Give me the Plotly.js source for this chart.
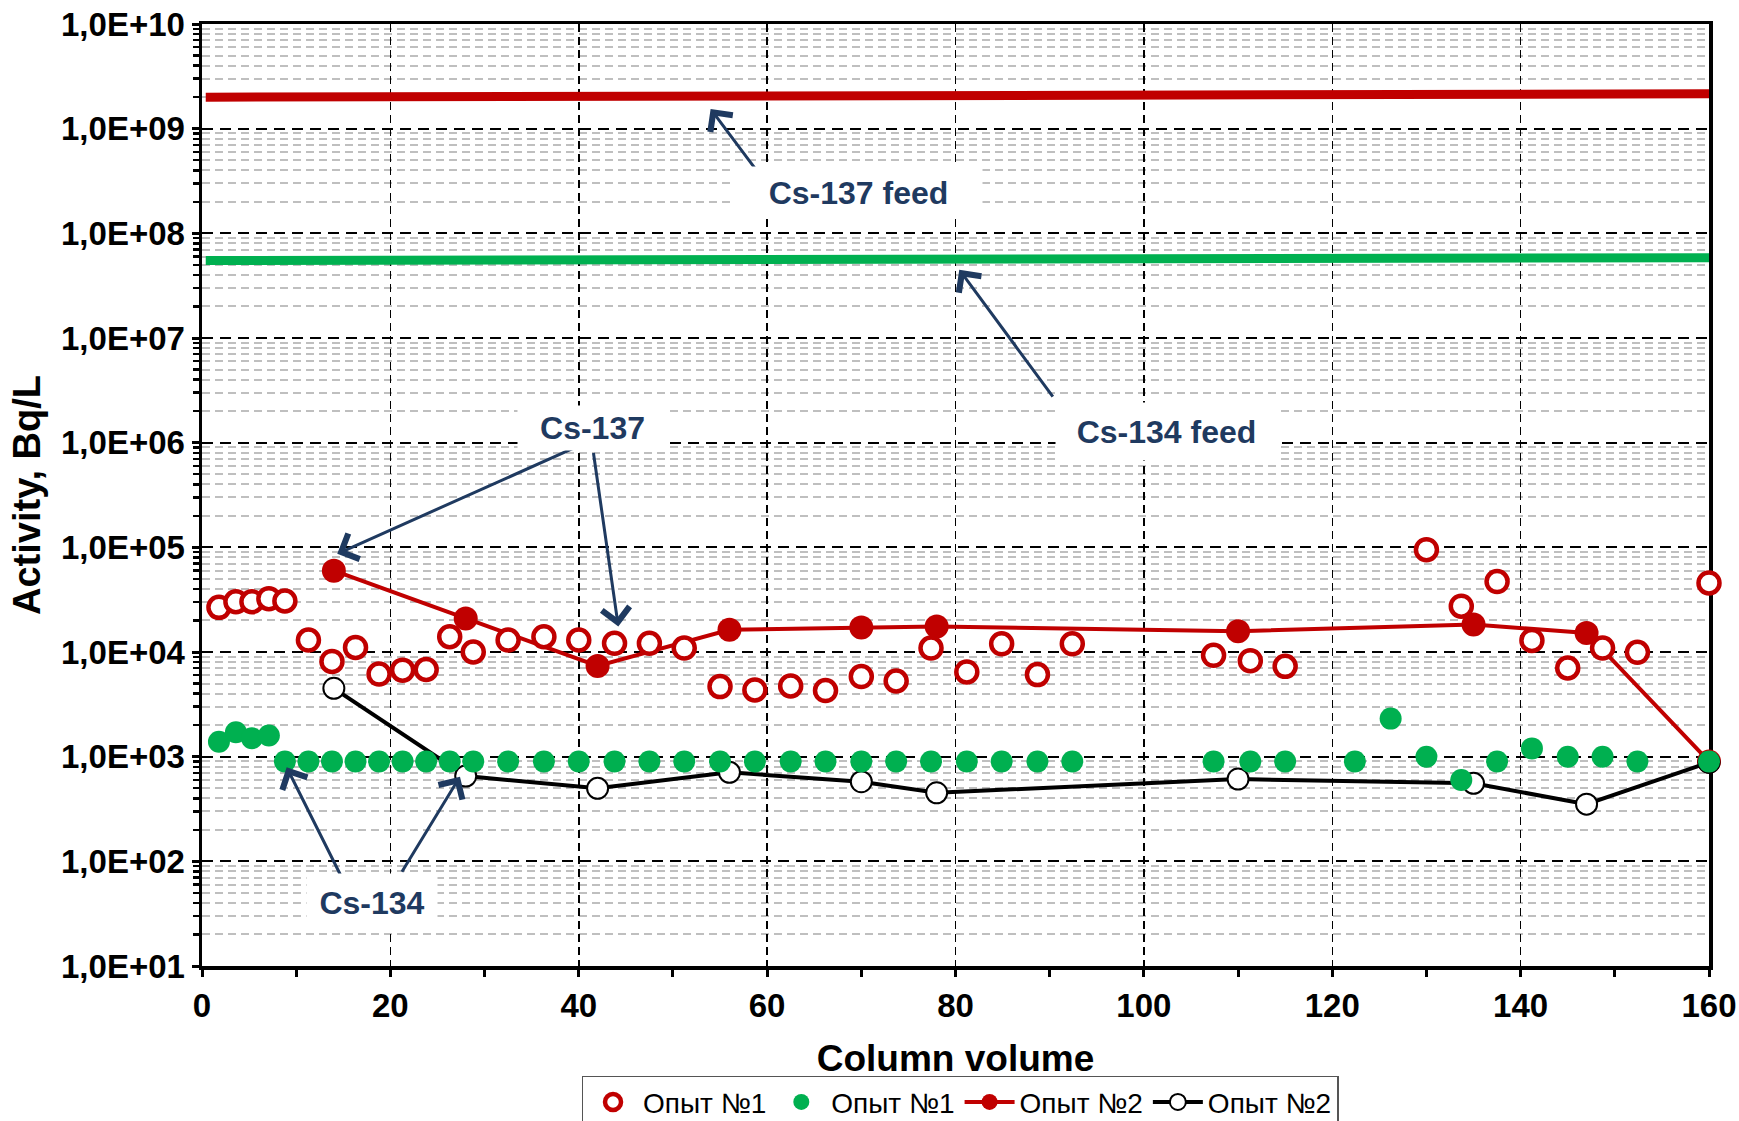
<!DOCTYPE html>
<html><head><meta charset="utf-8">
<script src="https://cdn.plot.ly/plotly-3.0.1.min.js"></script>
<style>html,body{margin:0;padding:0;background:#fff}</style>
</head><body>
<div id="chart" style="width:1739px;height:1121px"></div>
<script>
// ---- data ----
const run1X137 = [1.8,3.6,5.3,7.1,8.8,11.3,13.8,16.3,18.8,21.3,23.8,26.3,28.8,32.5,36.3,40,43.8,47.5,51.2,55,58.7,62.5,66.2,70,73.7,77.4,81.2,84.9,88.7,92.4,107.4,111.3,115,130,133.7,137.5,141.2,145,148.7,152.4,160];
const run1Cs137 = [26700,30200,30200,32300,30700,13000,8130,11060,6150,6710,6810,14000,10000,13000,14000,13000,12100,12100,10900,4670,4340,4730,4280,5820,5280,10900,6450,11970,6080,11970,9290,8260,7290,95000,27400,47100,12900,7030,10900,9930,45700];
const run1X134 = [1.8,3.6,5.3,7.1,8.8,11.3,13.8,16.3,18.8,21.3,23.8,26.3,28.8,32.5,36.3,40,43.8,47.5,51.2,55,58.7,62.5,66.2,70,73.7,77.4,81.2,84.9,88.7,92.4,107.4,111.3,115,122.4,126.2,130,133.7,137.5,141.2,145,148.7,152.4,160];
const run1Cs134 = [1390,1710,1500,1590,900,900,900,900,900,900,900,900,900,900,900,900,900,900,900,900,900,900,900,900,900,900,900,900,900,900,900,900,900,900,2310,1000,598,900,1200,1000,1000,900,900];
const run2X = [14,28,42,56,70,78,110,135,147,160];
const run2Cs137 = [59800,20900,7360,16300,17100,17500,15800,18300,15200,900];
const run2Cs134 = [4500,653,498,708,576,452,611,556,352,880];
const feedX = [0.4,160];
const feedCs137 = [2.0e9,2.15e9];
const feedCs134 = [5.5e7,5.85e7];
const legendNames = ['Опыт №1','Опыт №1','Опыт №2','Опыт №2'];
const yTickVals = [1e1,1e2,1e3,1e4,1e5,1e6,1e7,1e8,1e9,1e10];
const yTickText = ['1,0E+01','1,0E+02','1,0E+03','1,0E+04','1,0E+05','1,0E+06','1,0E+07','1,0E+08','1,0E+09','1,0E+10'];
const xTickVals = [0,20,40,60,80,100,120,140,160];
const xTickText = ['0','20','40','60','80','100','120','140','160'];
const annTexts = ['Cs-137 feed','Cs-134 feed','Cs-137','Cs-134'];

// minor log tick positions
const yMinor = [];
for (let k = 1; k < 10; k++) for (let d = 2; d < 10; d++) yMinor.push(d * Math.pow(10, k));

const RED = '#C00000', GREEN = '#00B050', NAVY = '#1F3A60';
const FONT = 'Liberation Sans, Arial, sans-serif';

const traces = [
  {x: feedX, y: feedCs137, mode: 'lines', line: {color: RED, width: 9}, showlegend: false, cliponaxis: false},
  {x: feedX, y: feedCs134, mode: 'lines', line: {color: GREEN, width: 9}, showlegend: false, cliponaxis: false},
  {x: run2X, y: run2Cs137, name: legendNames[2], legendrank: 3, mode: 'lines+markers',
   line: {color: RED, width: 4}, marker: {color: RED, size: 24, line: {width: 0}}, cliponaxis: false},
  {x: run2X, y: run2Cs134, name: legendNames[3], legendrank: 4, mode: 'lines+markers',
   line: {color: '#000', width: 4}, marker: {color: '#fff', size: 21, line: {color: '#000', width: 2}}, cliponaxis: false},
  {x: run1X137, y: run1Cs137, name: legendNames[0], legendrank: 1, mode: 'markers',
   marker: {color: '#fff', size: 21, line: {color: RED, width: 4.5}}, cliponaxis: false},
  {x: run1X134, y: run1Cs134, name: legendNames[1], legendrank: 2, mode: 'markers',
   marker: {color: GREEN, size: 22, line: {width: 0}}, cliponaxis: false}
];

function textAnn(t, x, ylog, w, h) {
  return {text: t, x: x, y: ylog, xref: 'x', yref: 'y', showarrow: false, width: w, height: h,
    xanchor: 'center', yanchor: 'middle', bgcolor: '#fff', borderpad: 0,
    font: {family: FONT, size: 32, color: NAVY, weight: 700}};
}
function arrowAnn(hx, hy, tx, ty) {
  return {text: '', x: hx, y: hy, ax: tx, ay: ty, xref: 'x', yref: 'y', axref: 'x', ayref: 'y',
    showarrow: true, arrowhead: 4, arrowsize: 1.8, arrowwidth: 3, arrowcolor: NAVY, standoff: 0, startstandoff: 0};
}

const annotations = [
  arrowAnn(54.0, 9.1885, 59.35, 8.544),
  arrowAnn(80.4, 7.6525, 90.45, 6.4255),
  arrowAnn(14.36, 4.938, 39.85, 5.9635),
  arrowAnn(44.2, 4.243, 41.54, 5.916),
  arrowAnn(8.99, 2.899, 14.76, 1.86),
  arrowAnn(27.39, 2.809, 21.13, 1.886),
  textAnn(annTexts[0], 69.7, 8.393, 247, 51),
  textAnn(annTexts[1], 102.45, 6.109, 221, 57),
  textAnn(annTexts[2], 41.46, 6.142, 149, 44),
  textAnn(annTexts[3], 18.0, 1.602, 130, 57)
];

const layout = {
  width: 1739, height: 1121,
  margin: {l: 202, r: 30, t: 24, b: 155, pad: 0, autoexpand: false},
  paper_bgcolor: '#fff', plot_bgcolor: '#fff',
  showlegend: true,
  hovermode: false,
  xaxis: {
    range: [0, 160], tickmode: 'array', tickvals: xTickVals, ticktext: xTickText,
    showline: true, linecolor: '#000', linewidth: 3.5, mirror: true, layer: 'below traces',
    ticks: 'outside', ticklen: 7, tickwidth: 3, tickcolor: '#000', ticklabelstandoff: 1,
    showgrid: true, gridcolor: '#000', gridwidth: 1.5, griddash: '8px,5px', zeroline: false,
    minor: {tickmode: 'array', tickvals: [10,30,50,70,90,110,130,150], ticks: 'outside', ticklen: 7, tickwidth: 3, tickcolor: '#000', showgrid: false},
    tickfont: {family: FONT, size: 33, color: '#000', weight: 700},
    title: {text: 'Column volume', standoff: 23, font: {family: FONT, size: 37, color: '#000', weight: 700}}
  },
  yaxis: {
    type: 'log', range: [1, 10], tickmode: 'array', tickvals: yTickVals, ticktext: yTickText,
    showline: true, linecolor: '#000', linewidth: 3.5, mirror: true, layer: 'below traces',
    ticks: 'outside', ticklen: 7, tickwidth: 3, tickcolor: '#000', ticklabelstandoff: 0,
    showgrid: true, gridcolor: '#000', gridwidth: 2, griddash: '11px,7px', zeroline: false,
    minor: {tickmode: 'array', tickvals: yMinor, ticks: 'outside', ticklen: 6, tickwidth: 2.5, tickcolor: '#000',
      showgrid: true, gridcolor: '#BFBFBF', gridwidth: 2, griddash: '8px,5px'},
    tickfont: {family: FONT, size: 33, color: '#000', weight: 700},
    title: {text: 'Activity, Bq/L', standoff: 9, font: {family: FONT, size: 38, color: '#000', weight: 700}}
  },
  legend: {
    orientation: 'h', x: 0.503, xanchor: 'center', y: -0.1165, yanchor: 'top',
    bgcolor: '#fff', bordercolor: '#555', borderwidth: 1.5, itemwidth: 50,
    font: {family: FONT, size: 28, color: '#000'}
  },
  annotations: annotations
};

Plotly.newPlot('chart', traces, layout, {staticPlot: true, displayModeBar: false});
</script>
</body></html>
